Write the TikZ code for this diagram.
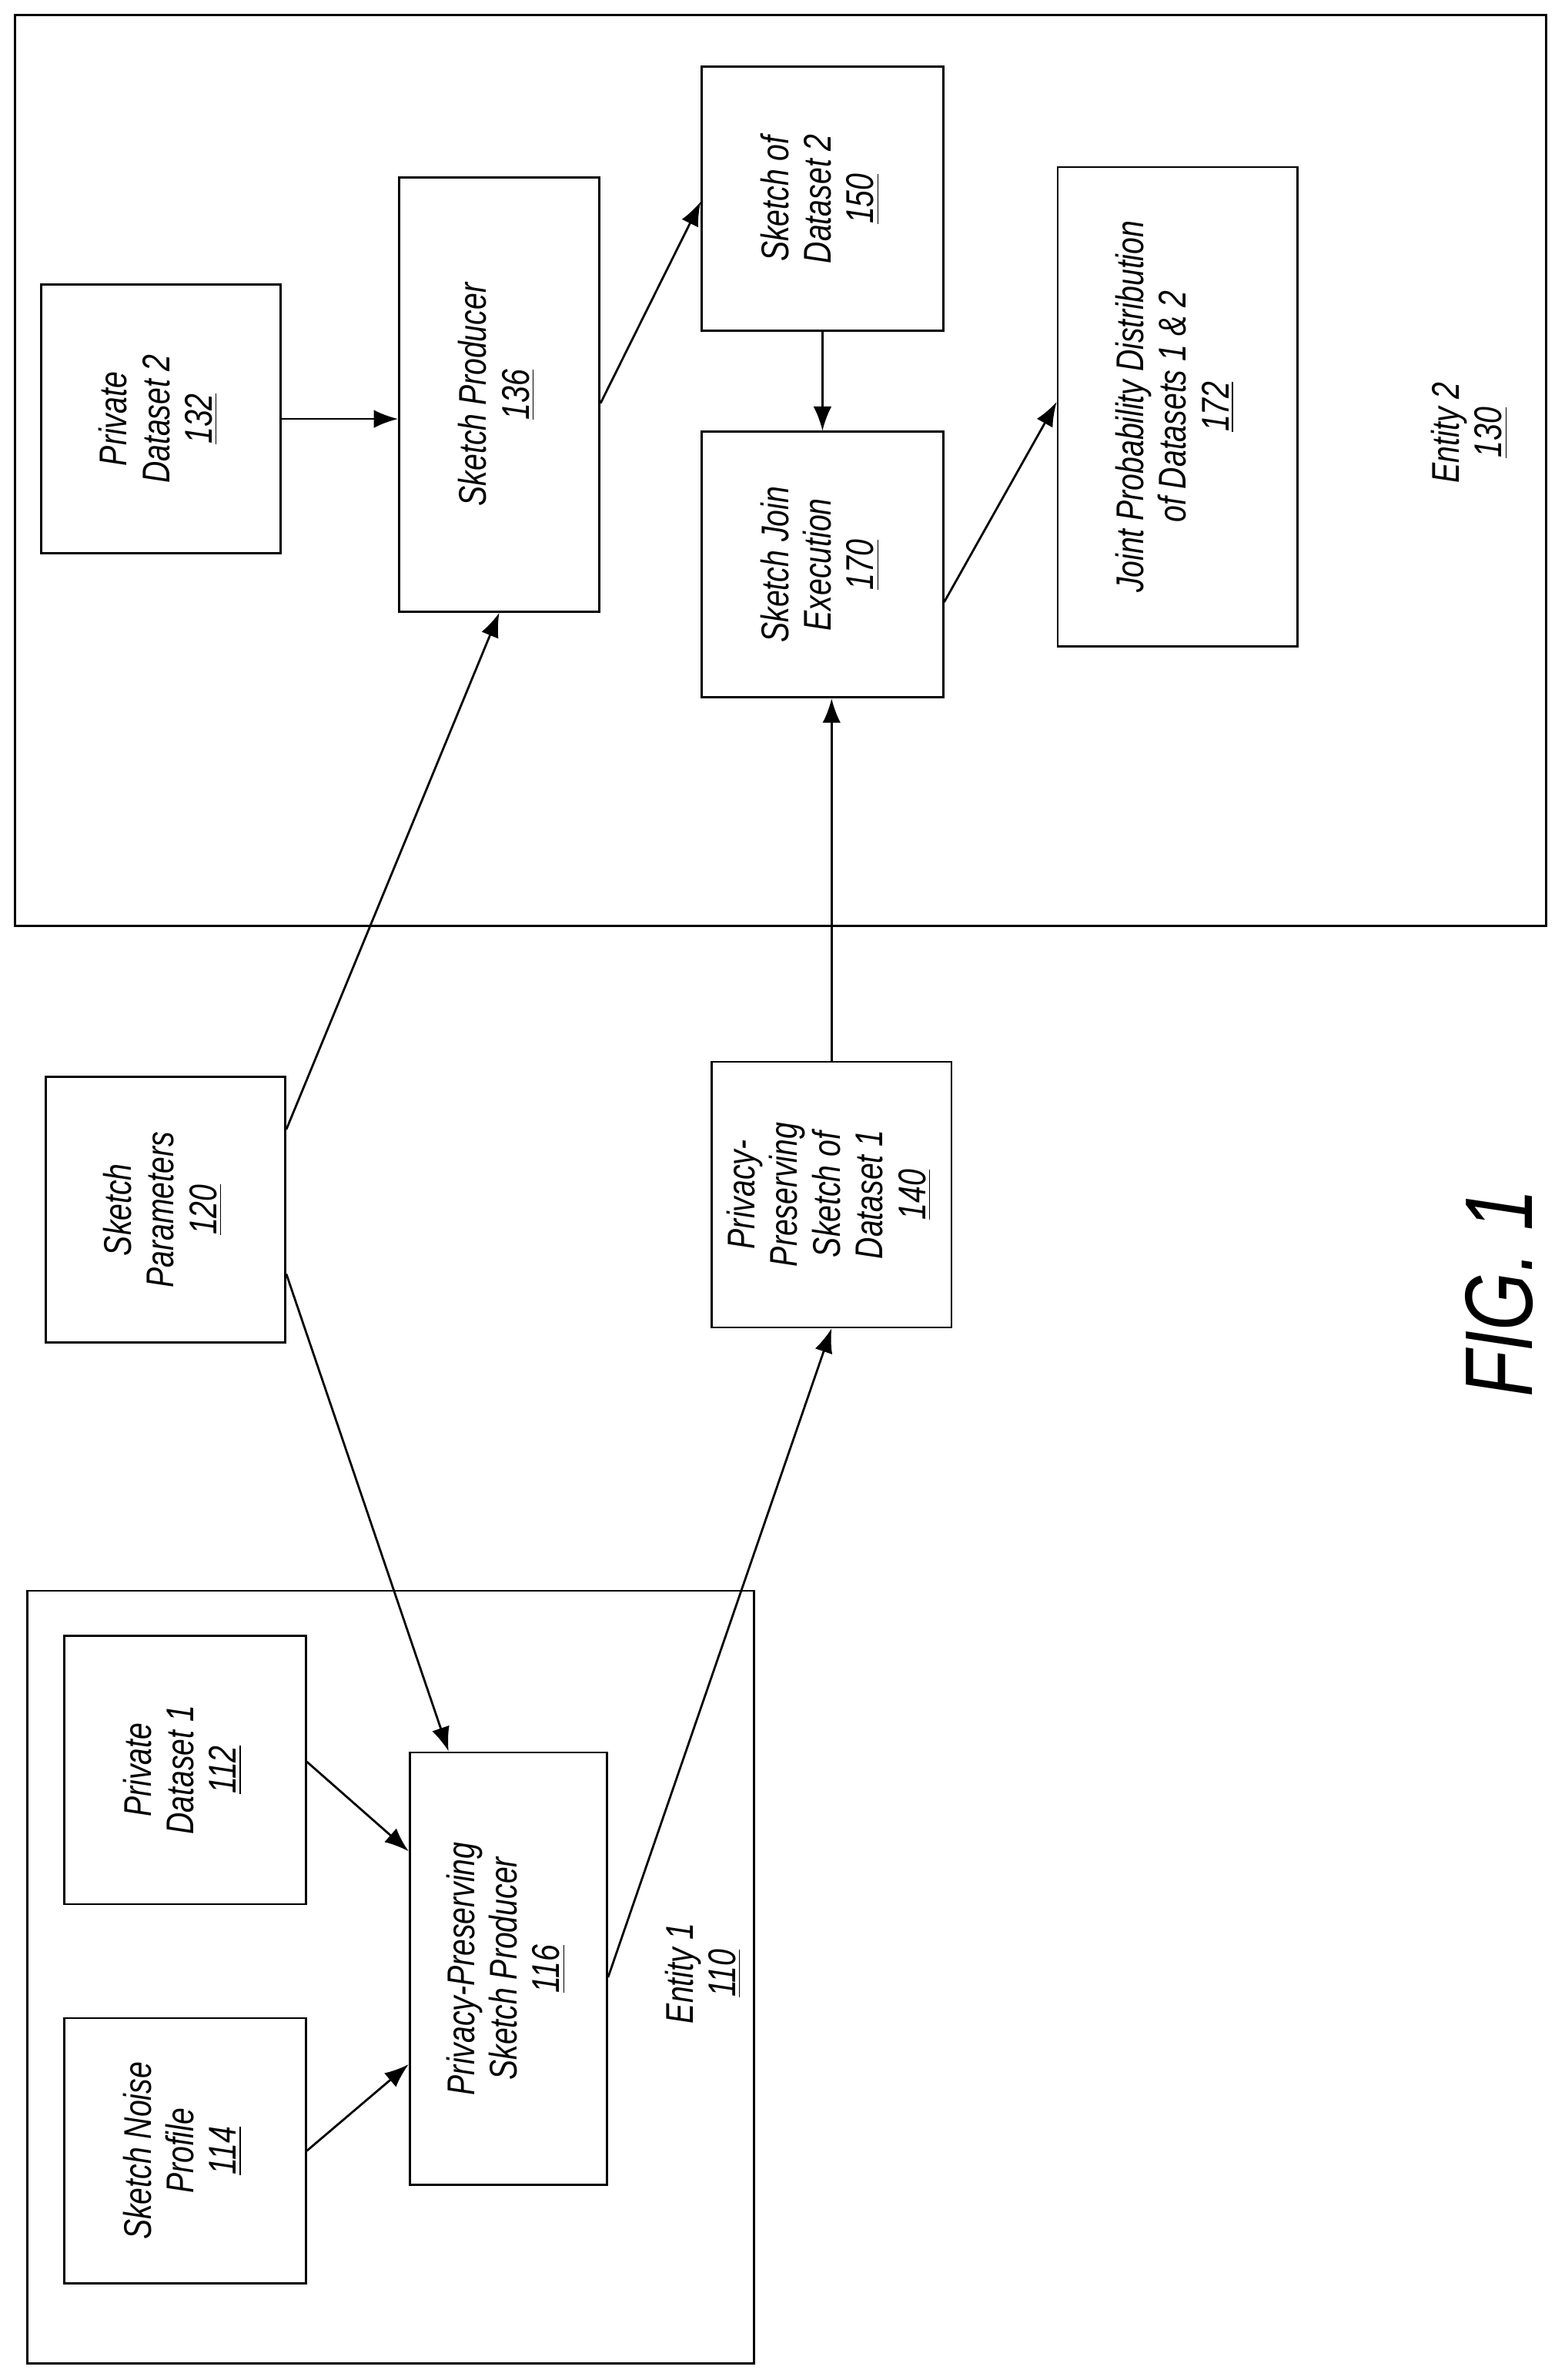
\documentclass[tikz,border=0pt]{standalone}
\usepackage{fontspec}
\setmainfont{Liberation Sans}[FakeStretch=0.78]
\usetikzlibrary{calc,arrows.meta}

\tikzset{
  box/.style={draw, thick, minimum width=#1, inner sep=0pt},
  arr/.style={-{Latex[length=3.2mm,width=2.4mm]}, thick},
}
\newcommand{\vtext}[1]{\rotatebox{90}{\itshape\begin{tabular}{@{}c@{}}#1\end{tabular}}}

\begin{document}
\begin{tikzpicture}[x=0.02cm,y=-0.02cm,font=\fontsize{14.5}{16}\selectfont]
\useasboundingbox (0,0) rectangle (1031,1568);

% entity frames
\draw[thick] (10,10) rectangle (1019,610);
\draw[thick] (18,1048) rectangle (497,1557);

% entity 2
\node[box=3.16cm, minimum height=3.54cm] (pd2) at (106,276) {\vtext{Private\\Dataset 2\\\underline{132}}};
\node[box=2.64cm, minimum height=5.72cm] (sp) at (329,260) {\vtext{Sketch Producer\\\underline{136}}};
\node[box=3.18cm, minimum height=3.48cm] (s150) at (542,131) {\vtext{Sketch of\\Dataset 2\\\underline{150}}};
\node[box=3.18cm, minimum height=3.5cm] (sje) at (542,372) {\vtext{Sketch Join\\Execution\\\underline{170}}};
\node[box=3.16cm, minimum height=6.32cm] (jpd) at (776,268) {\vtext{Joint Probability Distribution\\of Datasets 1 \& 2\\\underline{172}}};
\node (e2) at (970,285) {\vtext{Entity 2\\\underline{130}}};

% between
\node[box=3.16cm, minimum height=3.5cm] (par) at (109,797) {\vtext{Sketch\\Parameters\\\underline{120}}};
\node[box=3.16cm, minimum height=3.5cm] (psd1) at (548,787) {\vtext{Privacy-\\Preserving\\Sketch of\\Dataset 1\\\underline{140}}};
\node[font=\fontsize{36}{40}\selectfont] (fig) at (988,852) {\rotatebox{90}{\itshape FIG. 1}};

% entity 1
\node[box=3.18cm, minimum height=3.54cm] (pd1) at (122,1166) {\vtext{Private\\Dataset 1\\\underline{112}}};
\node[box=3.18cm, minimum height=3.5cm] (snp) at (122,1417) {\vtext{Sketch Noise\\Profile\\\underline{114}}};
\node[box=2.6cm, minimum height=5.7cm] (ppsp) at (335,1297) {\vtext{Privacy-Preserving\\Sketch Producer\\\underline{116}}};
\node (e1) at (465,1300) {\vtext{Entity 1\\\underline{110}}};

% connectors
\draw[arr] (pd2.east) -- (pd2.east -| sp.west);
\draw[arr] ($(sp.north east)!0.52!(sp.south east)$) -- ($(s150.north west)!0.51!(s150.south west)$);
\draw[arr] (s150.south) -- (sje.north);
\draw[arr] ($(sje.north east)!0.64!(sje.south east)$) -- ($(jpd.north west)!0.49!(jpd.south west)$);
\draw[arr] ($(par.north east)!0.2!(par.south east)$) -- (sp.south);
\draw[arr] ($(par.north east)!0.74!(par.south east)$) -- ($(ppsp.north west)!0.2!(ppsp.north east)$);
\draw[arr] (psd1.north) -- (psd1.north |- sje.south);
\draw[arr] ($(pd1.north east)!0.47!(pd1.south east)$) -- ($(ppsp.north west)!0.23!(ppsp.south west)$);
\draw[arr] ($(snp.north east)!0.5!(snp.south east)$) -- ($(ppsp.north west)!0.72!(ppsp.south west)$);
\draw[arr] ($(ppsp.north east)!0.52!(ppsp.south east)$) -- (psd1.south);
\end{tikzpicture}
\end{document}
